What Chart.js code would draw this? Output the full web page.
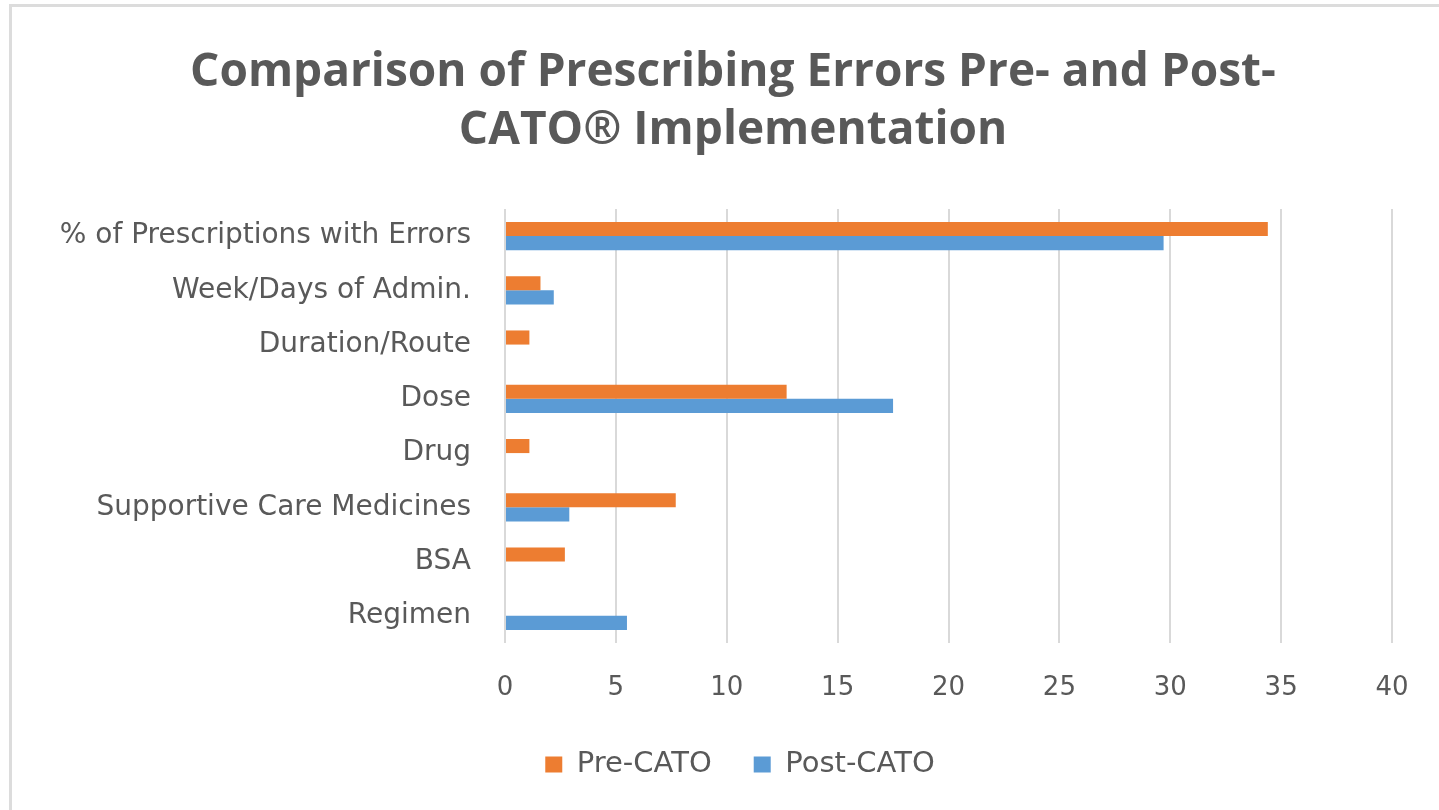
<!DOCTYPE html>
<html>
<head>
<meta charset="utf-8">
<script src="https://cdn.jsdelivr.net/npm/chart.js@4/dist/chart.umd.min.js"></script>
<style>
  html, body { margin: 0; padding: 0; background: #fff; }
  #wrap { position: relative; width: 1439px; height: 810px; overflow: hidden; }
  #frame { position: absolute; left: 9px; top: 4px; width: 1500px; height: 900px;
           border-top: 3px solid #dcdcdc; border-left: 3px solid #dcdcdc; }
  canvas { position: absolute; left: 0; top: 0; }
</style>
</head>
<body>
<div id="wrap">
  <div id="frame"></div>
  <canvas id="chart" width="1439" height="810"></canvas>
</div>
<script>
// ===== Data =====
const categories = [
  '% of Prescriptions with Errors',
  'Week/Days of Admin.',
  'Duration/Route',
  'Dose',
  'Drug',
  'Supportive Care Medicines',
  'BSA',
  'Regimen'
];
const preCato  = [34.4, 1.6, 1.1, 12.7, 1.1, 7.7, 2.7, null];
const postCato = [29.7, 2.2, null, 17.5, null, 2.9, null, 5.5];
const xTicks   = [0, 5, 10, 15, 20, 25, 30, 35, 40];

const textColor = '#595959';

// title and legend are centred on the whole frame, not just the plot side
const centreBlocks = {
  id: 'centreBlocks',
  afterLayout(chart) {
    if (chart.titleBlock) chart.titleBlock.left = 74;
    if (chart.legend) chart.legend.left = 88;
  }
};

new Chart(document.getElementById('chart'), {
  type: 'bar',
  data: {
    labels: categories,
    datasets: [
      { label: 'Pre-CATO',  data: preCato,  backgroundColor: '#ED7D31' },
      { label: 'Post-CATO', data: postCato, backgroundColor: '#5B9BD5' }
    ]
  },
  options: {
    indexAxis: 'y',
    responsive: false,
    animation: false,
    datasets: { bar: { categoryPercentage: 0.52, barPercentage: 1 } },
    layout: { padding: { left: 0, right: 47, top: 0, bottom: 21 } },
    plugins: {
      title: {
        display: true,
        text: ['Comparison of Prescribing Errors Pre- and Post-', 'CATO\u00AE Implementation'],
        color: textColor,
        font: { family: 'Open Sans', size: 46, weight: 'bold', lineHeight: 1.26 },
        padding: { top: 44, bottom: 49 }
      },
      legend: {
        position: 'bottom',
        labels: {
          color: textColor,
          boxWidth: 17,
          boxHeight: 16,
          padding: 42,
          font: { family: 'DejaVu Sans', size: 29 }
        }
      },
      tooltip: { enabled: false }
    },
    scales: {
      y: {
        grid: { display: false },
        border: { display: false },
        ticks: { color: textColor, padding: 26, font: { family: 'DejaVu Sans', size: 28 } },
        afterFit(scale) { scale.width = 505; }
      },
      x: {
        min: xTicks[0],
        max: xTicks[xTicks.length - 1],
        grid: { color: '#d9d9d9', lineWidth: 2, drawTicks: false },
        border: { display: false },
        ticks: { stepSize: 5, color: textColor, padding: 30, font: { family: 'DejaVu Sans', size: 26 } },
        afterFit(scale) { scale.height = 65; }
      }
    }
  },
  plugins: [centreBlocks]
});
</script>
</body>
</html>
